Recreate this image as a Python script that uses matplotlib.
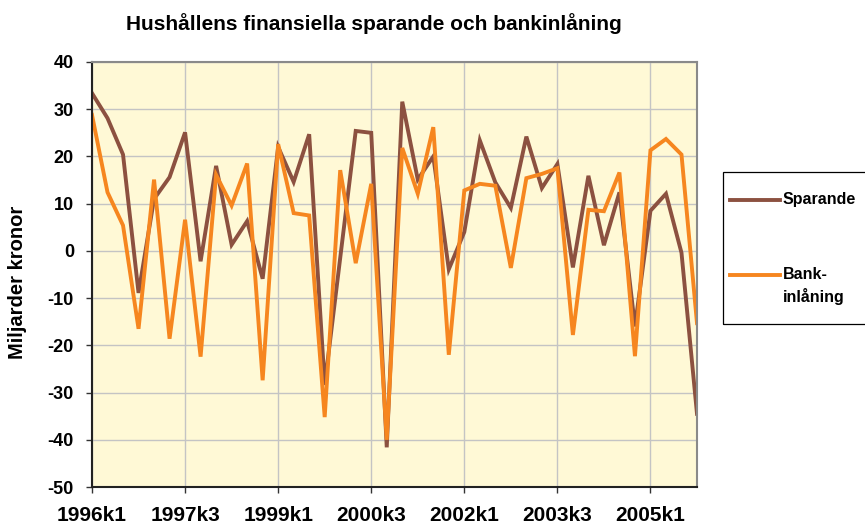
import matplotlib

matplotlib.use("Agg")
import matplotlib.pyplot as plt
import numpy as np
from matplotlib.lines import Line2D
from matplotlib.patches import Rectangle

plt.rcParams["axes.unicode_minus"] = False
plt.rcParams["font.family"] = ["Liberation Sans", "DejaVu Sans"]

# Quarterly data 1996k1 - 2005k4, miljarder kronor
quarters = [f"{y}k{q}" for y in range(1996, 2006) for q in range(1, 5)]
sparande = [
    33.4, 28.1, 20.4, -8.9, 11.0, 15.6, 25.1, -2.2, 18.0, 1.3,
    6.3, -5.9, 22.0, 14.6, 24.7, -28.4, -1.5, 25.4, 25.0, -41.6,
    31.6, 15.1, 20.0, -3.9, 4.0, 23.4, 14.5, 9.1, 24.2, 13.3,
    18.4, -3.5, 15.9, 1.2, 12.4, -16.0, 8.5, 12.1, -0.4, -34.5,
]
bankinlaning = [
    28.8, 12.4, 5.4, -16.5, 15.1, -18.6, 6.6, -22.4, 16.1, 9.6,
    18.5, -27.4, 22.6, 8.0, 7.5, -35.2, 17.1, -2.6, 14.2, -40.0,
    21.8, 12.1, 26.2, -22.0, 12.8, 14.2, 13.8, -3.6, 15.4, 16.3,
    17.5, -17.8, 8.7, 8.4, 16.6, -22.3, 21.3, 23.7, 20.4, -15.3,
]
series_names = ["Sparande", "Bank-\ninlåning"]

BROWN = "#8c5140"
ORANGE = "#f6861f"
W, H = 865, 527

fig = plt.figure(figsize=(W / 100, H / 100), dpi=100)
ax = fig.add_axes([92 / W, 1 - 487 / H, (697 - 92) / W, (487 - 62) / H])
ax.set_facecolor("#fff9d6")

x = np.arange(len(quarters))
l1, = ax.plot(x, sparande, color=BROWN, lw=2.8, solid_joinstyle="miter")
l2, = ax.plot(x, bankinlaning, color=ORANGE, lw=2.8, solid_joinstyle="miter")

ax.set_xlim(0, len(quarters) - 1)
ax.set_ylim(-50, 40)
ax.set_yticks(np.arange(-50, 41, 10))
ax.set_xticks(x[::6])
ax.set_xticklabels(quarters[::6])
ax.grid(True, color="#c4c4c4", lw=1)
ax.set_axisbelow(True)

for lab in ax.get_xticklabels():
    lab.set_fontweight("bold")
    lab.set_fontsize(15)
for lab in ax.get_yticklabels():
    lab.set_fontweight("bold")
    lab.set_fontsize(13)
ax.tick_params(axis="both", direction="out", length=4, width=1, color="#333333")
ax.tick_params(axis="x", pad=10)
ax.tick_params(axis="y", pad=9)

for side in ("left", "bottom"):
    ax.spines[side].set_color("#222222")
    ax.spines[side].set_linewidth(1.5)
for side in ("top", "right"):
    ax.spines[side].set_color("#8a8a8a")
    ax.spines[side].set_linewidth(1.5)

ax.set_ylabel("Miljarder kronor", fontsize=14.5, fontweight="bold")
ax.yaxis.set_label_coords(27 / W, 1 - 282 / H, transform=fig.transFigure)

fig.text(374 / W, 1 - 24 / H, "Hushållens finansiella sparande och bankinlåning",
         ha="center", va="center", fontsize=15, fontweight="bold")

# legend box, partly cut off at the right edge as in the original
fig.add_artist(Rectangle((723 / W, 1 - 324 / H), 200 / W, 152 / H,
                         transform=fig.transFigure, fill=False,
                         edgecolor="black", lw=0.9))
for line, name, ly in zip([l1, l2], series_names, [200, 275]):
    fig.add_artist(Line2D([730 / W, 780 / W], [1 - ly / H] * 2,
                          transform=fig.transFigure,
                          color=line.get_color(), lw=2.8))
    fig.text(783 / W, 1 - (ly - 8) / H, name, ha="left", va="top",
             fontsize=11.5, fontweight="bold", linespacing=1.45)

fig.savefig("out.png", dpi=100)
